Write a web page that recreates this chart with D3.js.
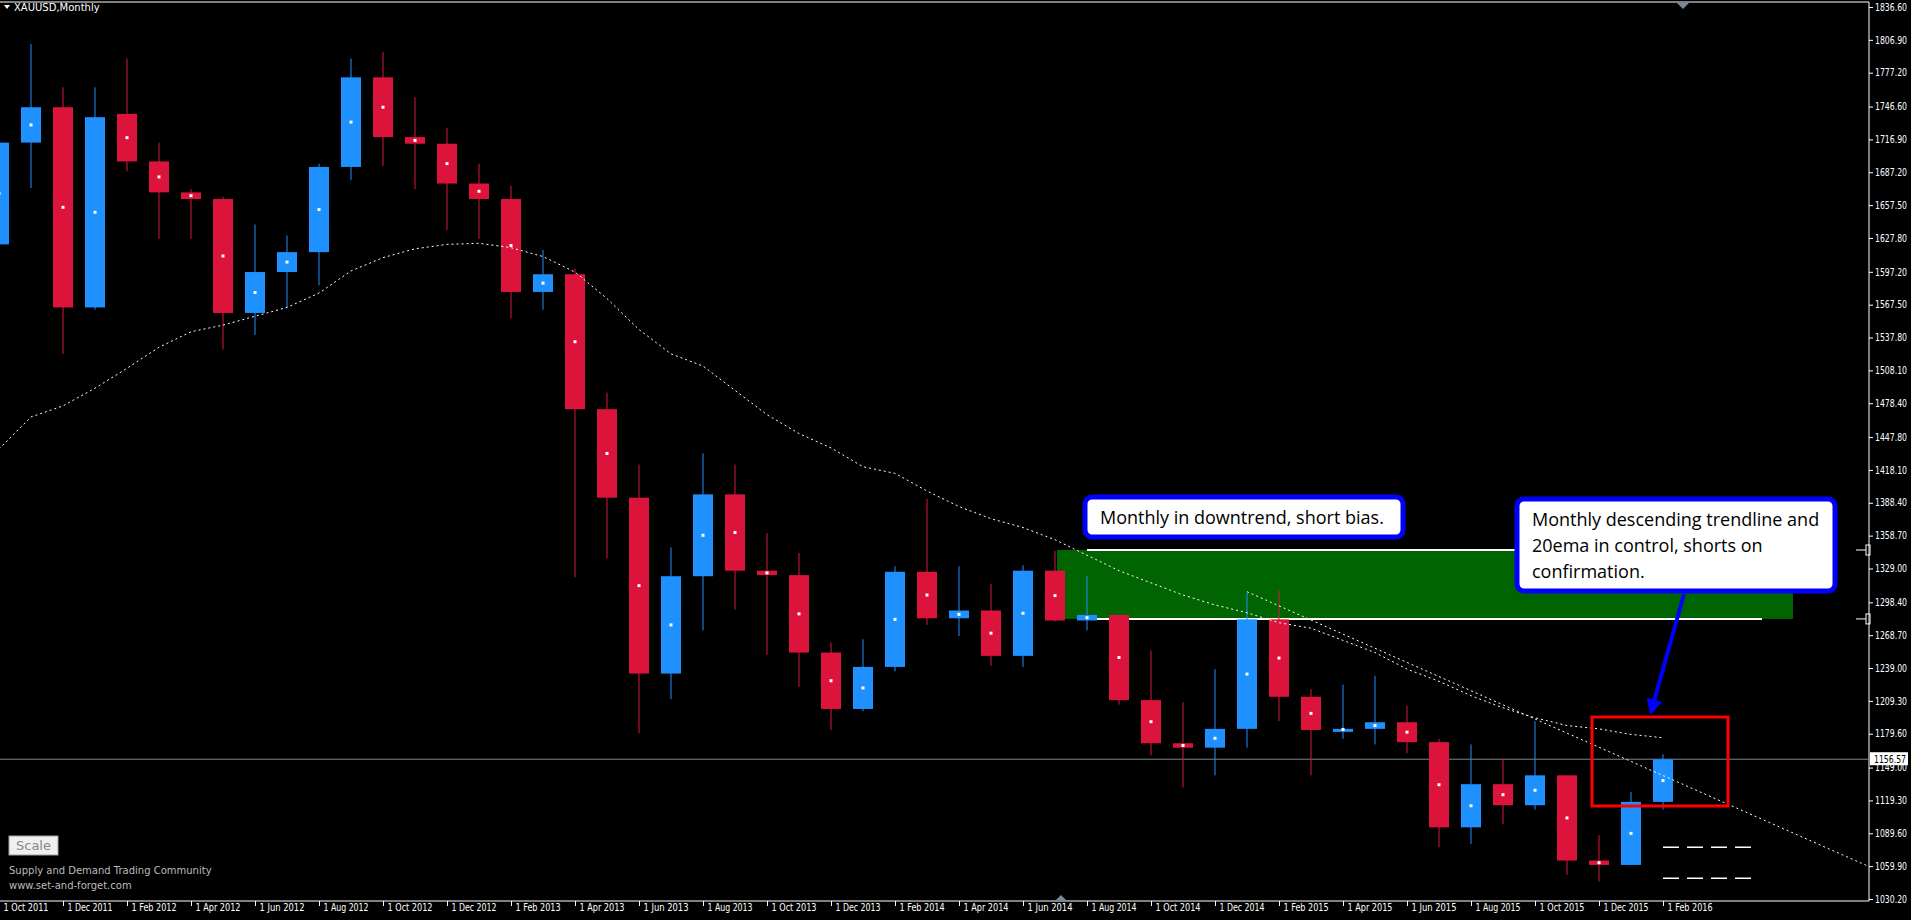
<!DOCTYPE html>
<html>
<head>
<meta charset="utf-8">
<script src="https://cdn.jsdelivr.net/npm/d3@7"></script>
<style>
  body { margin: 0; background: #000; overflow: hidden; }
  text { font-family: "DejaVu Sans", Arial, sans-serif; }
</style>
</head>
<body>
<div id="chart"></div>
<script>
// monthly bars, Oct 2011 .. Feb 2016
const months = ["Oct 2011","Nov 2011","Dec 2011","Jan 2012","Feb 2012","Mar 2012","Apr 2012","May 2012","Jun 2012","Jul 2012","Aug 2012","Sep 2012",
  "Oct 2012","Nov 2012","Dec 2012","Jan 2013","Feb 2013","Mar 2013","Apr 2013","May 2013","Jun 2013","Jul 2013","Aug 2013","Sep 2013",
  "Oct 2013","Nov 2013","Dec 2013","Jan 2014","Feb 2014","Mar 2014","Apr 2014","May 2014","Jun 2014","Jul 2014","Aug 2014","Sep 2014",
  "Oct 2014","Nov 2014","Dec 2014","Jan 2015","Feb 2015","Mar 2015","Apr 2015","May 2015","Jun 2015","Jul 2015","Aug 2015","Sep 2015",
  "Oct 2015","Nov 2015","Dec 2015","Jan 2016","Feb 2016"];
const opens  = [1622,1714,1746,1565,1740,1697,1669,1663,1560,1597,1615,1692,1773,1719,1713,1677,1663,1579,1595,1473,1393,1234,1322,1396,1327,1323,1253,1202,1240,1326,1284,1291,1250,1327,1282,1287,1210,1171,1167,1184,1283,1213,1183,1184,1190,1172,1095,1134,1115,1142,1065,1061,1118];
const highs  = [1728,1803,1764,1764,1790,1714,1672,1665,1640,1630,1695,1790,1796,1755,1727,1695,1675,1617,1600,1488,1423,1348,1433,1423,1361,1343,1262,1265,1331,1392,1331,1315,1332,1345,1322,1287,1255,1208,1238,1307,1309,1220,1224,1232,1205,1175,1170,1157,1191,1142,1088,1127,1161];
const lows   = [1600,1673,1523,1563,1688,1627,1627,1527,1540,1565,1585,1680,1693,1672,1635,1627,1555,1563,1321,1338,1180,1211,1273,1292,1251,1222,1183,1200,1236,1278,1268,1241,1240,1281,1273,1206,1160,1131,1142,1167,1191,1142,1175,1170,1162,1077,1080,1098,1111,1052,1046,1061,1111];
const closes = [1714,1746,1565,1737,1697,1669,1663,1560,1597,1615,1692,1773,1719,1713,1677,1663,1579,1595,1473,1393,1234,1322,1396,1327,1323,1253,1202,1240,1326,1284,1291,1250,1327,1282,1287,1210,1171,1167,1184,1283,1213,1183,1184,1190,1172,1095,1134,1115,1142,1065,1061,1118,1156.57];
const ema20  = [1437,1466,1476,1492,1510,1529,1543,1549,1557,1565,1578,1598,1610,1618,1622,1623,1619,1611,1597,1573,1545,1523,1512,1490,1468,1451,1438,1421,1415,1399,1385,1374,1366,1355,1341,1327,1316,1305,1296,1289,1280,1275,1264,1253,1238,1227,1214,1203,1194,1187,1184,1179,1176];
const priceTicks = [1836.60,1806.90,1777.20,1746.60,1716.90,1687.20,1657.50,1627.80,1597.20,1567.50,1537.80,1508.10,1478.40,1447.80,1418.10,1388.40,1358.70,1329.00,1298.40,1268.70,1239.00,1209.30,1179.60,1149.00,1119.30,1089.60,1059.90,1030.20];
const lastPrice = 1156.57;
const zoneTop = 1345.7, zoneBottom = 1283.4;
const trendline = [[39, 1308], [58.4, 1060]];
const dashLevels = [1077, 1049];
const note1 = ["Monthly in downtrend, short bias."];
const note2 = ["Monthly descending trendline and", "20ema in control, shorts on", "confirmation."];

const width = 1911, height = 920;
const axisX = 1869, bottomY = 901;
const red = "#dc143c", blue = "#1e90ff";

const svg = d3.select("#chart").append("svg").attr("width", width).attr("height", height);

const x = d3.scaleLinear().domain([0, 52]).range([-1, 1663]);
const y = d3.scaleLinear().domain([1030.2, 1836.6]).range([899, 7]);

// frame
svg.append("line").attr("x1", 0).attr("x2", axisX).attr("y1", 2).attr("y2", 2).attr("stroke", "#fff");
svg.append("line").attr("x1", 0).attr("x2", axisX).attr("y1", bottomY).attr("y2", bottomY).attr("stroke", "#fff");
svg.append("line").attr("x1", axisX).attr("x2", axisX).attr("y1", 2).attr("y2", bottomY).attr("stroke", "#fff");

// green zone + lines
svg.append("rect").attr("x", 1057).attr("width", 1793 - 1057)
  .attr("y", y(zoneTop)).attr("height", y(zoneBottom) - y(zoneTop)).attr("fill", "#006400");
svg.append("line").attr("x1", 1087).attr("x2", 1762).attr("y1", y(zoneTop)).attr("y2", y(zoneTop)).attr("stroke", "#fff").attr("stroke-width", 2);
svg.append("line").attr("x1", 1078).attr("x2", 1762).attr("y1", y(zoneBottom)).attr("y2", y(zoneBottom)).attr("stroke", "#fff").attr("stroke-width", 2);
[zoneTop, zoneBottom].forEach(p => {
  svg.append("line").attr("x1", 1856).attr("x2", 1866).attr("y1", y(p)).attr("y2", y(p)).attr("stroke", "#fff");
  svg.append("rect").attr("x", 1866).attr("y", y(p) - 5).attr("width", 4).attr("height", 10).attr("fill", "none").attr("stroke", "#fff");
});

// last price line
svg.append("line").attr("x1", 0).attr("x2", axisX).attr("y1", y(lastPrice)).attr("y2", y(lastPrice)).attr("stroke", "#778899");

// candles
const data = months.map((m, i) => ({ i, m, o: opens[i], h: highs[i], l: lows[i], c: closes[i] }));
const bw = 20;
const g = svg.append("g");
g.selectAll(".wick").data(data).enter().append("line")
  .attr("x1", d => x(d.i)).attr("x2", d => x(d.i))
  .attr("y1", d => y(d.h)).attr("y2", d => y(d.l))
  .attr("stroke", d => d.c >= d.o ? blue : red).attr("stroke-width", 1);
g.selectAll(".body").data(data).enter().append("rect")
  .attr("x", d => x(d.i) - bw / 2).attr("width", bw)
  .attr("y", d => y(Math.max(d.o, d.c)))
  .attr("height", d => Math.max(3, Math.abs(y(d.o) - y(d.c))))
  .attr("fill", d => d.c >= d.o ? blue : red);
g.selectAll(".dot").data(data).enter().append("rect")
  .attr("x", d => x(d.i) - 1.5).attr("width", 3)
  .attr("y", d => y((d.o + d.c) / 2) - 1.5).attr("height", 3)
  .attr("fill", "#fff");

// ema
const line = d3.line().x((d, i) => x(i)).y(d => y(d));
svg.append("path").datum(ema20).attr("d", line).attr("fill", "none")
  .attr("stroke", "#fff").attr("stroke-width", 1).attr("stroke-dasharray", "2,3");

// trendline
svg.append("path").datum(trendline)
  .attr("d", d3.line().x(d => x(d[0])).y(d => y(d[1])))
  .attr("fill", "none").attr("stroke", "#fff").attr("stroke-dasharray", "2,3");

// dashed levels
dashLevels.forEach(p => {
  svg.append("line").attr("x1", 1663).attr("x2", 1753).attr("y1", y(p)).attr("y2", y(p))
    .attr("stroke", "#fff").attr("stroke-width", 1.5).attr("stroke-dasharray", "16,8");
});

// red box
svg.append("rect").attr("x", 1592).attr("y", 717).attr("width", 136).attr("height", 89)
  .attr("fill", "none").attr("stroke", "#ff0000").attr("stroke-width", 3);

// arrow
svg.append("defs").append("marker").attr("id", "ah").attr("viewBox", "0 0 10 10")
  .attr("refX", 8).attr("refY", 5).attr("markerWidth", 4).attr("markerHeight", 4).attr("orient", "auto")
  .append("path").attr("d", "M0,0L10,5L0,10z").attr("fill", "#0000ff");
svg.append("line").attr("x1", 1684).attr("y1", 594).attr("x2", 1651).attr("y2", 712)
  .attr("stroke", "#0000ff").attr("stroke-width", 4).attr("marker-end", "url(#ah)");

// callouts
function callout(x0, y0, w, h, lines) {
  svg.append("rect").attr("x", x0).attr("y", y0).attr("width", w).attr("height", h).attr("rx", 7)
    .attr("fill", "#fff").attr("stroke", "#0000ff").attr("stroke-width", 5);
  lines.forEach((t, k) => {
    svg.append("text").attr("x", x0 + 15).attr("y", y0 + 27 + k * 26)
      .attr("font-size", 18).attr("fill", "#000").style("font-family", "'Open Sans', sans-serif").text(t);
  });
}
callout(1085, 497, 318, 40, note1);
callout(1517, 499, 318, 92, note2);

// price axis
const ya = svg.append("g").attr("transform", `translate(${axisX},0)`)
  .call(d3.axisRight(y).tickValues(priceTicks).tickSize(4).tickFormat(d3.format(".2f")));
ya.select(".domain").remove();
ya.selectAll("line").attr("stroke", "#fff");
ya.selectAll("text").attr("fill", "#fff").attr("font-size", 10).attr("x", 6)
  .attr("textLength", 32).attr("lengthAdjust", "spacingAndGlyphs")
  .style("font-family", "'DejaVu Sans', sans-serif");

// last price label (drawn over the 1149.00 tick, as in the terminal)
svg.append("rect").attr("x", axisX + 1).attr("y", y(lastPrice) - 7).attr("width", 38).attr("height", 13).attr("fill", "#fff");
svg.append("text").attr("x", axisX + 5).attr("y", y(lastPrice) + 4).attr("font-size", 10)
  .attr("textLength", 32).attr("lengthAdjust", "spacingAndGlyphs").attr("fill", "#000").text(lastPrice.toFixed(2));

// time axis
const labelIdx = d3.range(0, 53, 2);
const xa = svg.append("g").attr("transform", `translate(0,${bottomY})`)
  .call(d3.axisBottom(x).tickValues(labelIdx).tickSize(5).tickFormat(i => "1 " + months[i]));
xa.select(".domain").remove();
xa.selectAll("line").attr("stroke", "#fff");
xa.selectAll("text").attr("fill", "#fff").attr("font-size", 10).attr("text-anchor", "start").attr("dx", 4).attr("dy", 2)
  .attr("textLength", 45).attr("lengthAdjust", "spacingAndGlyphs")
  .style("font-family", "'DejaVu Sans', sans-serif");

// header and footer
svg.append("path").attr("d", "M4,5L10,5L7,9z").attr("fill", "#fff");
svg.append("text").attr("x", 14).attr("y", 11).attr("font-size", 10).attr("fill", "#fff").text("XAUUSD,Monthly");
svg.append("path").attr("d", `M${1677},3L${1689},3L${1683},9z`).attr("fill", "#778899");
svg.append("path").attr("d", `M${1055},${bottomY}L${1067},${bottomY}L${1061},${bottomY - 6}z`).attr("fill", "#778899");

svg.append("rect").attr("x", 9).attr("y", 836).attr("width", 49).attr("height", 19)
  .attr("fill", "#f0f0f0").attr("stroke", "#a0a0a0");
svg.append("text").attr("x", 33.5).attr("y", 850).attr("text-anchor", "middle").attr("font-size", 13).attr("fill", "#888").text("Scale");
svg.append("text").attr("x", 9).attr("y", 874).attr("font-size", 10).attr("fill", "#bbb").text("Supply and Demand Trading Community");
svg.append("text").attr("x", 9).attr("y", 889).attr("font-size", 10).attr("fill", "#bbb").text("www.set-and-forget.com");
</script>
</body>
</html>
